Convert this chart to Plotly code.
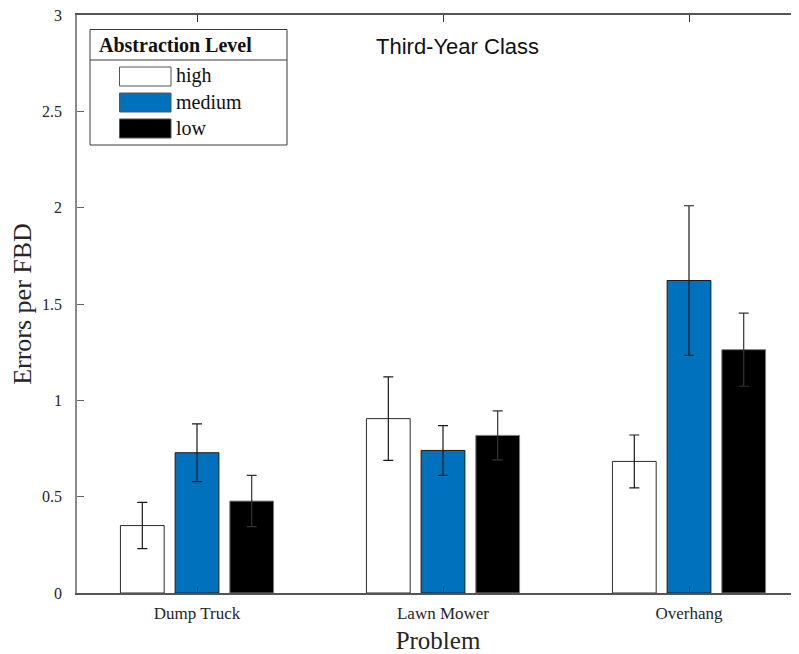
import plotly.graph_objects as go

# ---- data ----
categories = ["Dump Truck", "Lawn Mower", "Overhang"]
series_names = ["high", "medium", "low"]
high_vals = [0.35, 0.905, 0.683]
high_err = [0.12, 0.217, 0.137]
medium_vals = [0.728, 0.740, 1.622]
medium_err = [0.150, 0.129, 0.388]
low_vals = [0.477, 0.818, 1.263]
low_err = [0.133, 0.127, 0.190]
y_ticks = [0, 0.5, 1, 1.5, 2, 2.5, 3]
y_tick_labels = ["0", "0.5", "1", "1.5", "2", "2.5", "3"]
legend_title = "Abstraction Level"
chart_title = "Third-Year Class"

colors = ["#ffffff", "#0072BD", "#000000"]
edge_colors = ["#2b2b2b", "#1a1a1a", "#7f7f7f"]
err_colors = ["#1a1a1a", "#1a1a1a", "#333333"]

# page body has an 8px margin; compensate so the figure lines up with the window
OX, OY = 8, 8
W, H = 799 - OX, 654 - OY
L, T = 77 - OX, 15 - OY
R = 0
B = H - (593 - OY)
PW, PH = W - L - R, H - T - B

SERIF = "Liberation Serif"
SANS = "Liberation Sans"

fig = go.Figure()
xpos = [1, 2, 3]
for name, vals, errs, c, ec, erc in zip(series_names,
                                        [high_vals, medium_vals, low_vals],
                                        [high_err, medium_err, low_err],
                                        colors, edge_colors, err_colors):
    fig.add_trace(go.Bar(
        x=xpos, y=vals, name=name, showlegend=False,
        marker=dict(color=c, line=dict(color=ec, width=1)),
        error_y=dict(type="data", array=errs, symmetric=True,
                     color=erc, thickness=1.2, width=5),
    ))

# helpers: page pixel -> paper coordinate
def px(xp):
    return (xp - OX - L) / PW

def py(yp):
    return (H - B - (yp - OY)) / PH

shapes = []
annotations = []

# legend box
shapes.append(dict(type="rect", xref="paper", yref="paper",
                   x0=px(90), x1=px(287), y0=py(145), y1=py(29.5),
                   line=dict(color="#3a3a3a", width=1), fillcolor="white", layer="above"))
shapes.append(dict(type="line", xref="paper", yref="paper",
                   x0=px(90), x1=px(287), y0=py(60), y1=py(60),
                   line=dict(color="#3a3a3a", width=1), layer="above"))
annotations.append(dict(text="<b>" + legend_title + "</b>", xref="paper", yref="paper",
                        x=px(97), y=py(45), xanchor="left", yanchor="middle",
                        showarrow=False, font=dict(family=SERIF, size=20, color="#111")))
sw_top = [67, 93, 119]
for name, c, top in zip(series_names, colors, sw_top):
    shapes.append(dict(type="rect", xref="paper", yref="paper",
                       x0=px(119.5), x1=px(171), y0=py(top + 19), y1=py(top),
                       line=dict(color="#555555", width=1), fillcolor=c, layer="above"))
    annotations.append(dict(text=name,
                            xref="paper", yref="paper",
                            x=px(174), y=py(top + 9), xanchor="left", yanchor="middle",
                            showarrow=False, font=dict(family=SERIF, size=20, color="#111")))

# chart title (inside plot)
annotations.append(dict(text=chart_title, xref="paper", yref="paper",
                        x=px(457), y=py(46), xanchor="center", yanchor="middle",
                        showarrow=False, font=dict(family=SANS, size=22, color="#111")))

fig.update_layout(
    width=W, height=H,
    margin=dict(l=L, r=R, t=T, b=B, pad=0),
    paper_bgcolor="white", plot_bgcolor="white",
    barmode="group", bargap=0.333, bargroupgap=0.2,
    shapes=shapes, annotations=annotations,
    showlegend=False,
)
fig.update_xaxes(
    range=[1 - 120 / 246, 3 + 110 / 246],
    tickmode="array", tickvals=xpos, ticktext=categories,
    ticks="inside", ticklen=7, tickcolor="#333", tickwidth=1,
    showline=True, linecolor="#555555", linewidth=1.5, mirror="ticks",
    showgrid=False, zeroline=False,
    tickfont=dict(family=SERIF, size=17, color="#262626"),
    ticklabelstandoff=4,
    title=dict(text="Problem", font=dict(family=SERIF, size=25, color="#262626"), standoff=9),
)
fig.update_yaxes(
    range=[0, 3],
    tickmode="array", tickvals=y_ticks, ticktext=y_tick_labels,
    ticks="inside", ticklen=7, tickcolor="#666", tickwidth=1,
    showline=True, linecolor="#8a8a8a", linewidth=1.5, mirror=False,
    showgrid=False, zeroline=False,
    tickfont=dict(family=SERIF, size=16, color="#262626"),
    ticklabelstandoff=10, ticklabeloverflow="allow",
    title=dict(text="Errors per FBD", font=dict(family=SERIF, size=26, color="#262626"), standoff=4),
)

fig.write_html("out.html")
